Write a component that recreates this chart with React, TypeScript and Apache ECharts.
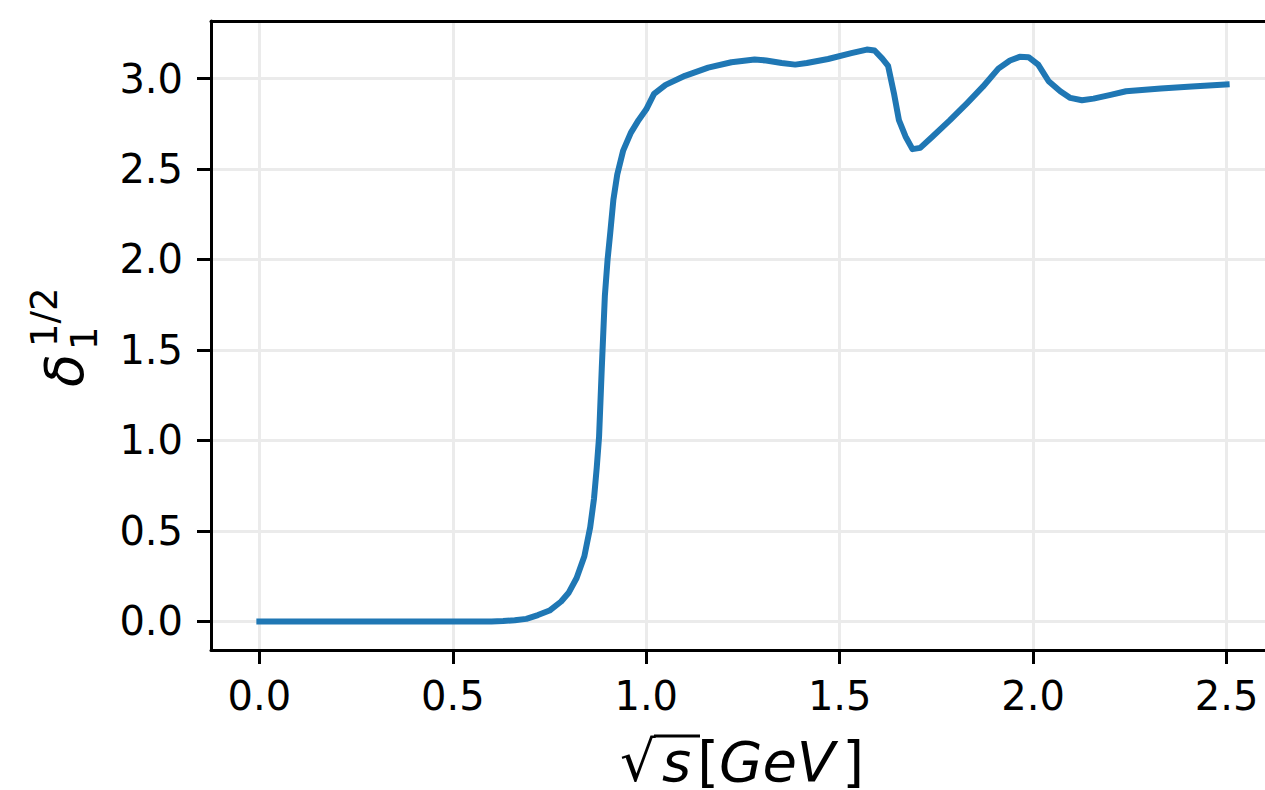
import React, { useEffect, useRef } from "react";
import * as echarts from "echarts";

const X_VALUES = [
  0, 0.1, 0.2, 0.3, 0.4, 0.5, 0.6, 0.63, 0.66, 0.69, 0.72, 0.75, 0.78, 0.8,
  0.82, 0.84, 0.855, 0.865, 0.872, 0.878, 0.885, 0.893, 0.9, 0.907, 0.915,
  0.925, 0.94, 0.96, 0.98, 1.0, 1.02, 1.05, 1.1, 1.16, 1.22, 1.28, 1.31, 1.35,
  1.385, 1.415, 1.47, 1.53, 1.57, 1.59, 1.61, 1.625, 1.64, 1.653, 1.67, 1.688,
  1.708, 1.74, 1.785, 1.83, 1.87, 1.91, 1.94, 1.965, 1.988, 2.013, 2.04, 2.07,
  2.096, 2.126, 2.156, 2.2, 2.24, 2.33, 2.41, 2.5,
];
const DELTA_VALUES = [
  0, 0, 0, 0, 0, 0, 0, 0.002, 0.006, 0.014, 0.035, 0.06, 0.11, 0.16, 0.24,
  0.36, 0.52, 0.68, 0.85, 1.02, 1.4, 1.8, 2.0, 2.15, 2.33, 2.47, 2.6, 2.7,
  2.77, 2.83, 2.915, 2.965, 3.015, 3.06, 3.09, 3.105, 3.1, 3.086, 3.077, 3.086,
  3.108, 3.14, 3.16, 3.155, 3.11, 3.07, 2.92, 2.77, 2.68, 2.61, 2.617, 2.68,
  2.77, 2.866, 2.955, 3.055, 3.1, 3.12, 3.118, 3.077, 2.985, 2.93, 2.893, 2.88,
  2.889, 2.91, 2.93, 2.945, 2.956, 2.967,
];
const X_TICKS = [0, 0.5, 1.0, 1.5, 2.0, 2.5];
const Y_TICKS = [0, 0.5, 1.0, 1.5, 2.0, 2.5, 3.0];

const FONT = '"DejaVu Sans"';

export default function App() {
  const ref = useRef<HTMLDivElement>(null);
  useEffect(() => {
    if (!ref.current) return;
    const chart = echarts.init(ref.current, null, { renderer: "svg" });
    const xMin = -0.125, xMax = 2.625, yMin = -0.158, yMax = 3.318;
    const spine = { show: true, onZero: false, lineStyle: { color: "#000", width: 3 } };
    const tickStyle = { color: "#000", width: 3 };
    const grid = { show: true, lineStyle: { color: "#ebebeb", width: 3 } };
    const lbl = { fontSize: 40, fontFamily: FONT, color: "#000" };
    const t = (text: string, x: number, baseline: number, size: number, italic: boolean) => ({
      type: "text",
      x,
      y: baseline - 0.35 * size,
      style: {
        text,
        font: `${italic ? "italic " : ""}${size}px ${FONT}`,
        lineHeight: size,
        fill: "#000",
        verticalAlign: "middle",
        align: "left",
      },
    });
    chart.setOption({
      animation: false,
      grid: { left: 211, top: 21, right: 10, bottom: 140, containLabel: false },
      xAxis: [
        {
          type: "value", min: xMin, max: xMax, position: "bottom",
          axisLine: spine,
          axisTick: { show: true, length: 14, lineStyle: tickStyle, customValues: X_TICKS },
          axisLabel: { ...lbl, margin: 26, customValues: X_TICKS, formatter: (v: number) => v.toFixed(1) },
          splitLine: grid,
        },
        {
          type: "value", min: xMin, max: xMax, position: "top",
          axisLine: spine, axisTick: { show: false }, axisLabel: { show: false }, splitLine: { show: false },
        },
      ],
      yAxis: [
        {
          type: "value", min: yMin, max: yMax, position: "left",
          axisLine: spine,
          axisTick: { show: true, length: 14, lineStyle: tickStyle, customValues: Y_TICKS },
          axisLabel: { ...lbl, margin: 28, customValues: Y_TICKS, formatter: (v: number) => v.toFixed(1) },
          splitLine: grid,
        },
        {
          type: "value", min: yMin, max: yMax, position: "right",
          axisLine: spine, axisTick: { show: false }, axisLabel: { show: false }, splitLine: { show: false },
        },
      ],
      series: [
        {
          type: "line",
          data: X_VALUES.map((x, i) => [x, DELTA_VALUES[i]]),
          showSymbol: false,
          xAxisIndex: 0, yAxisIndex: 0,
          lineStyle: { color: "#1f77b4", width: 6, cap: "square", join: "round" },
        },
      ],
      graphic: [
        {
          type: "group", x: 83, y: 387, rotation: Math.PI / 2,
          children: [
            t("δ", 0, 0, 54, true),
            t("1", 37, 14, 37, false),
            t("1/2", 40, -26, 37, false),
          ],
        },
        t("√", 620, 781, 56, false),
        { type: "line", shape: { x1: 654, y1: 736, x2: 700, y2: 736 }, style: { stroke: "#000", lineWidth: 3 } },
        {
          type: "text",
          x: 662,
          y: 781 - 0.35 * 56,
          style: {
            text: "{s|s}{u|[}{i|GeV}{r|]}",
            fill: "#000",
            verticalAlign: "middle",
            align: "left",
            rich: {
              s: { fontFamily: FONT, fontStyle: "italic", fontSize: 56, lineHeight: 56, fill: "#000", padding: [0, 6, 0, 0] },
              i: { fontFamily: FONT, fontStyle: "italic", fontSize: 56, lineHeight: 56, fill: "#000" },
              u: { fontFamily: FONT, fontSize: 56, lineHeight: 56, fill: "#000" },
              r: { fontFamily: FONT, fontSize: 56, lineHeight: 56, fill: "#000", padding: [0, 0, 0, 7] },
            },
          },
        },
      ],
    });
    return () => chart.dispose();
  }, []);
  return (
    <div style={{ position: "absolute", left: 0, top: 0, width: 1265, height: 790, overflow: "hidden", background: "#fff" }}>
      <div ref={ref} style={{ width: 1285, height: 790 }} />
    </div>
  );
}
